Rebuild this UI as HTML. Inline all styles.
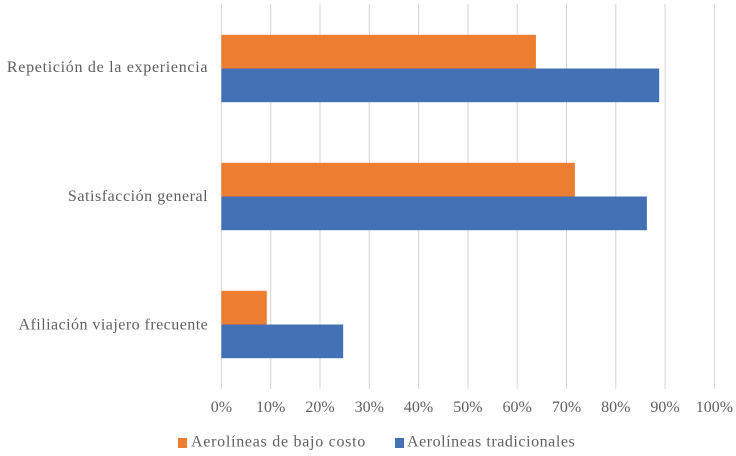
<!DOCTYPE html>
<html lang="es">
<head>
<meta charset="utf-8">
<title>Aerolíneas</title>
<style>
html,body{margin:0;padding:0;background:#fff;}
body{width:736px;height:456px;overflow:hidden;}
svg{display:block;}
text{font-family:"Liberation Serif",serif;fill:#5f5f5f;font-size:16px;}
</style>
</head>
<body>
<svg id="chart" width="736" height="456" viewBox="0 0 736 456" xmlns="http://www.w3.org/2000/svg"></svg>
<script>
const categories = ["Repetición de la experiencia", "Satisfacción general", "Afiliación viajero frecuente"];
const lowCostValues = [63.8, 71.7, 9.2];
const traditionalValues = [88.8, 86.3, 24.7];
const tickValues = [0, 10, 20, 30, 40, 50, 60, 70, 80, 90, 100];
const seriesNames = ["Aerolíneas de bajo costo", "Aerolíneas tradicionales"];

const NS = "http://www.w3.org/2000/svg";
const svg = document.getElementById("chart");
const plotLeft = 221.4, plotRight = 714.4, plotTop = 4, plotBottom = 389;
const firstCenter = 68.5, bandStep = 128, barH = 33.7;
const colorLow = "#ed7d31", colorTrad = "#4470b5";
const categoryTracking = ["0.7px", "0.55px", "0.46px"];
const legendTracking = ["0.72px", "0.55px"];

function x(v) { return plotLeft + (v / 100) * (plotRight - plotLeft); }
function y(i) { return firstCenter + i * bandStep; }
function make(tag, attrs, parent) {
  const el = document.createElementNS(NS, tag);
  for (const k in attrs) el.setAttribute(k, attrs[k]);
  (parent || svg).appendChild(el);
  return el;
}

tickValues.forEach(function (t) {
  const line = make("line", { x1: x(t), x2: x(t), y1: plotTop, y2: plotBottom, stroke: "#d4d4d4", "stroke-width": 1 });
  
  
  const label = make("text", { x: x(t), y: 412, "text-anchor": "middle" });
  
  
  label.textContent = t + "%";
});

categories.forEach(function (c, i) {
  const label = make("text", { x: 208.2, y: y(i) + 3.6 + i * 0.8, "text-anchor": "end" });
  
  
  label.style.letterSpacing = categoryTracking[i];
  label.textContent = c;

  const low = make("rect", { x: x(0), y: y(i) - barH, width: x(lowCostValues[i]) - x(0), height: barH, fill: colorLow });
  
  

  const trad = make("rect", { x: x(0), y: y(i), width: x(traditionalValues[i]) - x(0), height: barH, fill: colorTrad });
  
  
});

const swatchLow = make("rect", { x: 178, y: 438, width: 9, height: 10, fill: colorLow });


const textLow = make("text", { x: 191, y: 446.6 });


textLow.style.letterSpacing = legendTracking[0];
textLow.textContent = seriesNames[0];

const swatchTrad = make("rect", { x: 395, y: 438, width: 9, height: 10, fill: colorTrad });


const textTrad = make("text", { x: 407, y: 446.6 });


textTrad.style.letterSpacing = legendTracking[1];
textTrad.textContent = seriesNames[1];
</script>
</body>
</html>
